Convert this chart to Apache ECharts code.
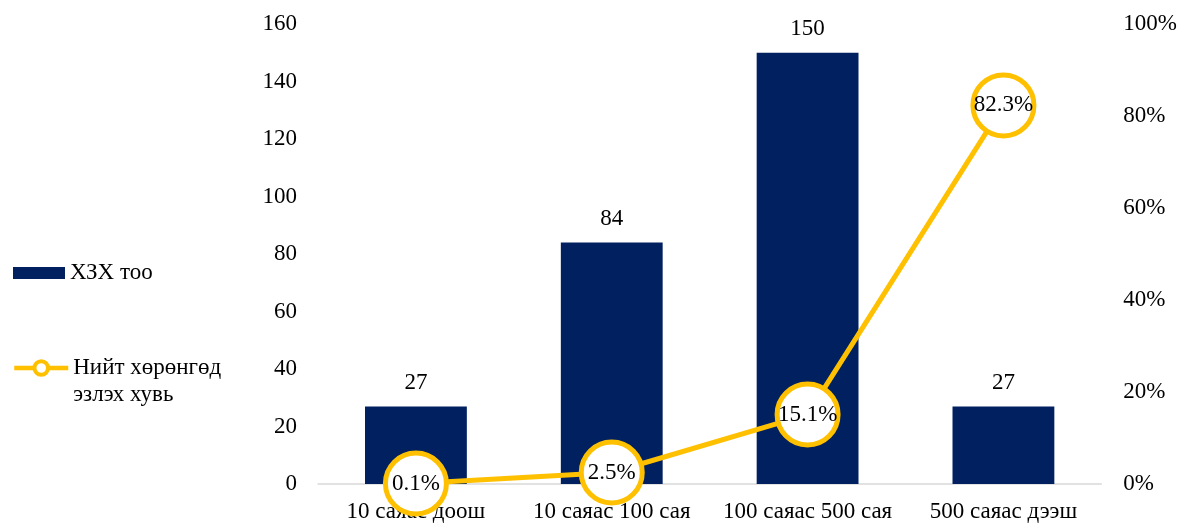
<!DOCTYPE html>
<html><head><meta charset="utf-8">
<script src="https://cdn.jsdelivr.net/npm/echarts@6/dist/echarts.min.js"></script>
<style>html,body{margin:0;padding:0;background:#fff}#c{width:1180px;height:523px}</style>
</head><body><div id="c"></div>
<script>
const categories = ['10 саяас доош', '10 саяас 100 сая', '100 саяас 500 сая', '500 саяас дээш'];
const countValues = [27, 84, 150, 27];
const shareValues = [0.1, 2.5, 15.1, 82.3];
const barName = 'ХЗХ тоо';
const lineName = 'Нийт хөрөнгөд эзлэх хувь';

const font = 'Liberation Serif';
const fs = 23;
const chart = echarts.init(document.getElementById('c'));
chart.setOption({
  animation: false,
  textStyle: { fontFamily: font },
  legend: [
    { data: [{ name: barName, icon: 'rect' }], orient: 'vertical', left: 13, top: 259.5, padding: 0,
      itemWidth: 52, itemHeight: 12, itemGap: 0,
      textStyle: { fontFamily: font, fontSize: fs, color: '#000', lineHeight: 27 } },
    { data: [lineName], orient: 'vertical', left: 12, top: 327.5, padding: 0, itemWidth: 54, itemHeight: 17,
      lineStyle: { width: 4.5 }, itemStyle: { borderWidth: 4 },
      formatter: function () { return ' \nНийт хөрөнгөд\nэзлэх хувь'; },
      textStyle: { fontFamily: font, fontSize: fs, color: '#000', lineHeight: 27 } }
  ],
  grid: { left: 318, right: 78, top: 24, bottom: 39, containLabel: false },
  xAxis: {
    type: 'category', data: categories,
    axisLine: { lineStyle: { color: '#D9D9D9', width: 1.5 } },
    axisTick: { show: false },
    axisLabel: { fontFamily: font, fontSize: fs, color: '#000', margin: 16, interval: 0 }
  },
  yAxis: [
    { type: 'value', min: 0, max: 160, interval: 20, splitLine: { show: false },
      axisLine: { show: false }, axisTick: { show: false },
      axisLabel: { fontFamily: font, fontSize: fs, color: '#000', margin: 21 } },
    { type: 'value', min: 0, max: 100, interval: 20, splitLine: { show: false },
      axisLine: { show: false }, axisTick: { show: false },
      axisLabel: { fontFamily: font, fontSize: fs, color: '#000', margin: 22, formatter: '{value}%' } }
  ],
  series: [
    { name: barName, type: 'bar', data: countValues, barWidth: '52%',
      itemStyle: { color: '#002060' },
      label: { show: true, position: 'top', distance: 12, fontFamily: font, fontSize: fs, color: '#000' } },
    { name: lineName, type: 'line', yAxisIndex: 1, data: shareValues, clip: false,
      symbol: 'circle', symbolSize: 61,
      lineStyle: { color: '#FFC000', width: 5 },
      itemStyle: { color: '#fff', borderColor: '#FFC000', borderWidth: 5 },
      label: { show: true, position: 'inside', fontFamily: font, fontSize: fs, color: '#000',
        formatter: function (p) { return p.value.toFixed(1) + '%'; } },
      z: 5 }
  ]
});
</script></body></html>
